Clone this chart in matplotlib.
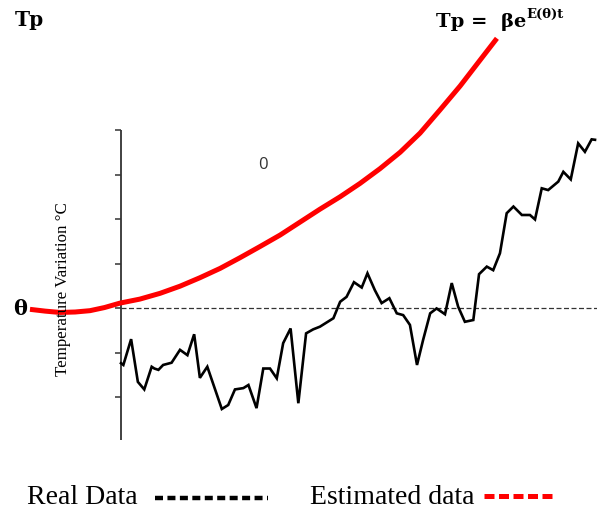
import matplotlib
matplotlib.use("Agg")
import matplotlib.pyplot as plt

# ---- data ----
real_years = [1880.0, 1880.7, 1883.0, 1885.0, 1886.9, 1889.1, 1889.9, 1891.1, 1892.5, 1895.0,
              1897.5, 1899.7, 1901.7, 1903.4, 1905.6, 1909.9, 1911.8, 1913.8, 1916.3, 1917.8,
              1920.2, 1922.2, 1924.2, 1926.2, 1928.1, 1930.3, 1932.6, 1934.9, 1937.0, 1939.0,
              1943.0, 1945.0, 1946.9, 1949.1, 1951.4, 1953.1, 1955.3, 1957.3, 1959.6, 1961.8,
              1963.7, 1965.7, 1967.8, 1969.6, 1971.7, 1973.6, 1976.1, 1978.1, 1980.0, 1982.0,
              1984.5, 1986.2, 1988.5, 1990.4, 1992.4, 1994.4, 1996.4, 1998.9, 2001.3, 2002.8,
              2004.8, 2006.7, 2009.7, 2011.2, 2013.4, 2015.6, 2017.6, 2019.6, 2020.6]
real_temp = [-1.24, -1.28, -0.70, -1.66, -1.83, -1.32, -1.36, -1.39, -1.28, -1.23,
             -0.94, -1.06, -0.59, -1.57, -1.32, -2.27, -2.18, -1.83, -1.80, -1.73,
             -2.25, -1.36, -1.36, -1.58, -0.79, -0.46, -2.14, -0.57, -0.48, -0.42,
             -0.23, 0.14, 0.25, 0.58, 0.46, 0.78, 0.40, 0.11, 0.22, -0.12,
             -0.16, -0.38, -1.28, -0.72, -0.12, -0.01, -0.14, 0.56, 0.03, -0.31,
             -0.27, 0.76, 0.93, 0.85, 1.23, 2.13, 2.28, 2.09, 2.09, 1.99,
             2.69, 2.65, 2.84, 3.06, 2.89, 3.70, 3.51, 3.79, 3.78]

est_years = [1853.0, 1857.5, 1861.9, 1866.4, 1870.8, 1875.1, 1879.7, 1885.6, 1891.6,
             1897.5, 1903.4, 1909.4, 1915.3, 1921.2, 1927.2, 1933.1, 1939.0, 1945.0,
             1950.9, 1956.8, 1962.8, 1968.7, 1974.6, 1980.6, 1986.5, 1991.5]
est_temp = [-0.03, -0.07, -0.10, -0.09, -0.06, 0.01, 0.11, 0.20, 0.33,
            0.49, 0.68, 0.89, 1.13, 1.38, 1.64, 1.93, 2.22, 2.50,
            2.80, 3.13, 3.50, 3.93, 4.45, 4.99, 5.57, 6.06]

y_ticks = [-2, -1, 0, 1, 2, 3, 4]

# ---- figure ----
W, H = 597, 511
fig = plt.figure(figsize=(W / 100, H / 100), dpi=100)
ax = fig.add_axes([0, 0, 1, 1])
ax.set_axis_off()

# scale: 1 unit = 44.5 px vertically, baseline at pixel row 308; axis at column 121 = 1880
px_per_year = 1 / 0.29661
x0 = 1880 - 121 / px_per_year
x1 = 1880 + (W - 121) / px_per_year
ax.set_xlim(x0, x1)
ax.set_ylim((308 - H) / 44.5, 308 / 44.5)

# y axis line and ticks
ax.vlines(1880, -2.97, 4.0, color="#333333", lw=1.3)
ax.hlines(y_ticks, 1880 - 6 / px_per_year, 1880, color="#333333", lw=1.1)
# dashed baseline
ax.hlines(0, 1880, x1, color="#333333", lw=0.9, linestyles=(0, (4, 2)))

# series
ax.plot(real_years, real_temp, color="black", lw=1.9, solid_joinstyle="miter")
ax.plot(est_years, est_temp, color="#ff0000", lw=3.6, solid_capstyle="butt",
        solid_joinstyle="round")

# texts
ax.text(15 / W, 1 - 20 / H, "Tp", transform=ax.transAxes, fontsize=14.5,
        fontweight="bold", family="DejaVu Serif", va="center", ha="left")
ax.text(436 / W, 1 - 22 / H, "Tp =  βe", transform=ax.transAxes, fontsize=14,
        fontweight="bold", family="DejaVu Serif", va="center", ha="left")
ax.text(526 / W, 1 - 14 / H, "E(θ)t", transform=ax.transAxes, fontsize=9.5,
        fontweight="bold", family="DejaVu Serif", va="center", ha="left")
ax.text(13 / W, 1 - 309 / H, "θ", transform=ax.transAxes, fontsize=15,
        fontweight="bold", family="DejaVu Serif", va="center", ha="left")
ax.text(263 / W, 1 - 165 / H, "0", transform=ax.transAxes, fontsize=12,
        family="Open Sans", color="#333333", va="center", ha="center")
ax.text(63 / W, 1 - 289 / H, "Temperature Variation °C", transform=ax.transAxes,
        fontsize=12.2, family="Liberation Serif", rotation=90, va="center", ha="center")

# legend (hand drawn like the reference)
ax.text(27 / W, 1 - 497 / H, "Real Data", transform=ax.transAxes, fontsize=20,
        family="Liberation Serif", va="center", ha="left")
ax.plot([155 / W, 268 / W], [1 - 498 / H, 1 - 498 / H], transform=ax.transAxes,
        color="black", lw=3.2, dashes=(1.8, 1.0), solid_capstyle="butt")
ax.text(310 / W, 1 - 497 / H, "Estimated data", transform=ax.transAxes, fontsize=20,
        family="Liberation Serif", va="center", ha="left")
ax.plot([484 / W, 555 / W], [1 - 496 / H, 1 - 496 / H], transform=ax.transAxes,
        color="#ff0000", lw=3.6, dashes=(2.0, 0.9), solid_capstyle="butt")

fig.savefig("out.png", dpi=100)
